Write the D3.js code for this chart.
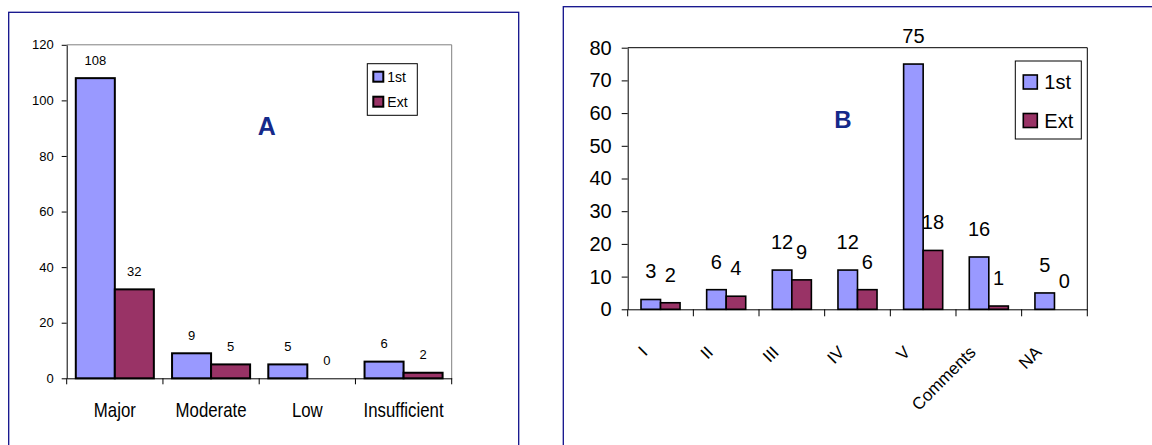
<!DOCTYPE html>
<html lang="en">
<head>
    <meta charset="UTF-8">
    <script src="https://cdnjs.cloudflare.com/ajax/libs/d3/7.8.5/d3.min.js"></script>
    <title>1st vs Ext</title>
    <style>
        body {
            margin: 0;
            background: #fff;
        }
        svg {
            display: block;
        }
    </style>
</head>
<body>
    <script>
        // Panel A
        const categoriesA = ['Major', 'Moderate', 'Low', 'Insufficient'];
        const firstA = [108, 9, 5, 6];
        const extA = [32, 5, 0, 2];
        const ticksA = [0, 20, 40, 60, 80, 100, 120];

        // Panel B
        const categoriesB = ['I', 'II', 'III', 'IV', 'V', 'Comments', 'NA'];
        const firstB = [3, 6, 12, 12, 75, 16, 5];
        const extB = [2, 4, 9, 6, 18, 1, 0];
        const ticksB = [0, 10, 20, 30, 40, 50, 60, 70, 80];

        const series = ['1st', 'Ext'];
        const colors = {'1st': '#9999FF', 'Ext': '#993366'};

        const width = 1152;
        const height = 445;
        const sans = '"Liberation Sans", Arial, sans-serif';
        const frameColor = '#10108a';
        const titleColor = '#15298a';

        const svg = d3.select('body')
            .append('svg')
            .attr('width', width)
            .attr('height', height);

        function drawPanel(o) {
            const g = svg.append('g');

            // рамка панели
            g.append('rect')
                .attr('x', o.frame[0])
                .attr('y', o.frame[1])
                .attr('width', o.frame[2])
                .attr('height', o.frame[3])
                .attr('fill', 'none')
                .attr('stroke', frameColor)
                .attr('stroke-width', 1.3);

            const x0 = d3.scaleBand()
                .domain(o.categories)
                .range([o.left, o.right])
                .padding(0);

            const x1 = d3.scaleBand()
                .domain(series)
                .range([o.gap, x0.bandwidth() - o.gap])
                .padding(0);

            const y = d3.scaleLinear()
                .domain([0, o.max])
                .range([o.bottom, o.top]);

            // верх и правая граница области построения
            g.append('path')
                .attr('d', 'M' + o.left + ',' + o.top + 'H' + o.right + 'V' + o.bottom)
                .attr('fill', 'none')
                .attr('stroke', o.borderColor)
                .attr('stroke-width', 1);

            const yAxis = g.append('g')
                .attr('transform', 'translate(' + o.left + ',0)')
                .call(d3.axisLeft(y)
                    .tickValues(o.ticks)
                    .tickSize(o.tickLen)
                    .tickSizeOuter(0)
                    .tickPadding(o.tickPad))
                .attr('font-family', sans)
                .attr('font-size', o.fs);
            yAxis.selectAll('text').attr('fill', '#000');
            yAxis.selectAll('line, .domain').attr('stroke', '#000');

            const xAxis = g.append('g')
                .attr('transform', 'translate(0,' + o.bottom + ')')
                .call(d3.axisBottom(x0).tickSize(0).tickSizeOuter(0))
                .attr('font-family', sans)
                .attr('font-size', o.catFs);
            xAxis.select('.domain').attr('stroke', '#000');
            xAxis.selectAll('text')
                .attr('fill', '#000')
                .attr('y', 0)
                .attr('dy', 0);
            if (o.rotate) {
                xAxis.selectAll('text')
                    .attr('text-anchor', 'end')
                    .attr('transform', 'translate(' + o.rotOffset[0] + ',' + o.rotOffset[1] + ') rotate(-45)');
            } else {
                // узкий шрифт: сжимаем подписи по ширине
                xAxis.selectAll('text')
                    .attr('y', o.catY)
                    .each(function() {
                        const len = this.getComputedTextLength();
                        d3.select(this)
                            .attr('textLength', len * o.squeeze)
                            .attr('lengthAdjust', 'spacingAndGlyphs');
                    });
            }

            // засечки по границам категорий
            const bounds = o.categories.map(function(c) { return x0(c); }).concat([x0.range()[1]]);
            xAxis.selectAll('.bound')
                .data(bounds)
                .enter()
                .append('line')
                .attr('class', 'bound')
                .attr('x1', function(d) { return d; })
                .attr('x2', function(d) { return d; })
                .attr('y1', 0)
                .attr('y2', o.tickLen + 1)
                .attr('stroke', '#000');

            const rows = o.categories.map(function(c, i) {
                return {
                    cat: c,
                    values: [
                        {s: '1st', v: o.first[i]},
                        {s: 'Ext', v: o.ext[i]}
                    ]
                };
            });

            const groups = g.selectAll('.grp')
                .data(rows)
                .enter()
                .append('g')
                .attr('transform', function(d) { return 'translate(' + x0(d.cat) + ',0)'; });

            groups.selectAll('rect')
                .data(function(d) { return d.values; })
                .enter()
                .append('rect')
                .attr('x', function(d) { return x1(d.s); })
                .attr('y', function(d) { return y(d.v); })
                .attr('width', x1.bandwidth())
                .attr('height', function(d) { return y(0) - y(d.v); })
                .attr('fill', function(d) { return colors[d.s]; })
                .attr('stroke', function(d) { return d.v > 0 ? '#000' : 'none'; })
                .attr('stroke-width', o.barStroke);

            groups.selectAll('.val')
                .data(function(d) { return d.values; })
                .enter()
                .append('text')
                .attr('class', 'val')
                .attr('x', function(d) { return x1(d.s) + x1.bandwidth() / 2; })
                .attr('y', function(d) { return y(d.v) - o.valOffset; })
                .attr('text-anchor', 'middle')
                .attr('font-family', sans)
                .attr('font-size', o.fs)
                .text(function(d) { return d.v; });

            // легенда
            const lg = g.append('g');
            lg.append('rect')
                .attr('x', o.legend.x)
                .attr('y', o.legend.y)
                .attr('width', o.legend.w)
                .attr('height', o.legend.h)
                .attr('fill', '#fff')
                .attr('stroke', '#000');
            const items = lg.selectAll('.item')
                .data(series)
                .enter()
                .append('g')
                .attr('transform', function(d, i) {
                    return 'translate(' + o.legend.x + ',' + (o.legend.y + o.legend.row0 + i * o.legend.step) + ')';
                });
            items.append('rect')
                .attr('x', o.legend.sw0)
                .attr('y', -o.legend.sw / 2)
                .attr('width', o.legend.sw)
                .attr('height', o.legend.sw)
                .attr('fill', function(d) { return colors[d]; })
                .attr('stroke', '#000')
                .attr('stroke-width', o.legend.swStroke);
            items.append('text')
                .attr('x', o.legend.tx)
                .attr('dy', '0.36em')
                .attr('font-family', sans)
                .attr('font-size', o.legend.fs)
                .text(function(d) { return d; });

            g.append('text')
                .attr('x', o.title.x)
                .attr('y', o.title.y)
                .attr('text-anchor', 'middle')
                .attr('font-family', sans)
                .attr('font-weight', 'bold')
                .attr('font-size', o.title.fs)
                .attr('fill', titleColor)
                .text(o.title.text);
        }

        drawPanel({
            categories: categoriesA, first: firstA, ext: extA, ticks: ticksA, max: 120,
            frame: [8.7, 12.3, 510, 450],
            left: 66.7, right: 451.7, top: 44.8, bottom: 378.3,
            gap: 9.1, borderColor: '#808080',
            tickLen: 5, tickPad: 8, fs: 13,
            catFs: 21, catY: 39, squeeze: 0.8, rotate: false,
            barStroke: 2, valOffset: 13.5,
            legend: {x: 367.3, y: 63.7, w: 50, h: 51.6, row0: 13, step: 25, sw0: 6, sw: 10, swStroke: 2, tx: 20, fs: 14},
            title: {text: 'A', x: 266.7, y: 135.3, fs: 25}
        });

        drawPanel({
            categories: categoriesB, first: firstB, ext: extB, ticks: ticksB, max: 80,
            frame: [563.3, 6.7, 620, 450],
            left: 627.7, right: 1087.3, top: 47.7, bottom: 309.3,
            gap: 13.3, borderColor: '#000',
            tickLen: 6, tickPad: 10, fs: 20,
            catFs: 17, rotate: true, rotOffset: [-12, 44],
            barStroke: 1.6, valOffset: 21,
            legend: {x: 1015.3, y: 61, w: 66, h: 78, row0: 21, step: 38.5, sw0: 8, sw: 14, swStroke: 1.6, tx: 29, fs: 20},
            title: {text: 'B', x: 843, y: 128.3, fs: 24}
        });
    </script>
</body>
</html>
